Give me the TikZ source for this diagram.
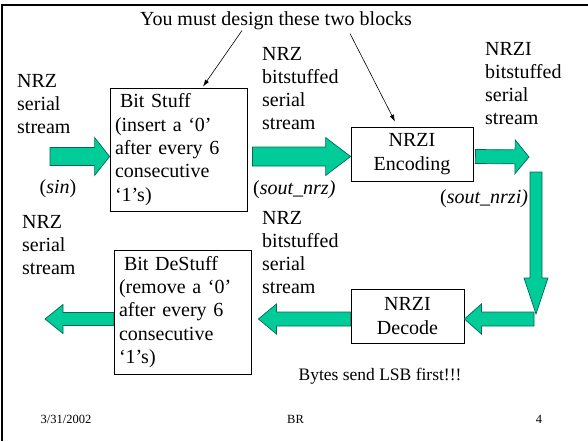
\documentclass[tikz,border=0pt]{standalone}
\usepackage{fontspec}
\setmainfont{Liberation Serif}
\usetikzlibrary{calc,arrows.meta}

\definecolor{arrowfill}{RGB}{0,204,153}
\definecolor{arrowline}{RGB}{0,105,80}

\tikzset{
  block/.style={draw, line width=0.8pt, inner sep=0pt},
  textbox/.style={block, minimum width=137pt, minimum height=123pt,
    text width=127pt, align=left},
  codebox/.style={block, minimum height=54pt, align=center},
  label/.style={anchor=north west, inner sep=0pt, align=left},
  signal/.style={anchor=base west, inner sep=0pt},
  pointer/.style={line width=0.6pt, -{Latex[length=7pt,width=4.5pt]}},
  blockarrow/.style={fill=arrowfill, draw=arrowline, line width=0.7pt, line join=miter},
  footer/.style={anchor=base, inner sep=0pt, font=\fontsize{12.5}{14}\selectfont}
}

% fat arrow: tail, tip, head length, half shaft width, half head width
\newcommand{\fatarrow}[5]{%
  \coordinate (hb) at ($(#2)!#3!(#1)$);
  \draw[blockarrow] ($(#1)!#4!90:(#2)$) -- ($(hb)!#4!-90:(#1)$)
    -- ($(hb)!#5!-90:(#1)$) -- (#2) -- ($(hb)!#5!90:(#1)$)
    -- ($(hb)!#4!90:(#1)$) -- ($(#1)!#4!-90:(#2)$) -- cycle;}

\begin{document}
\begin{tikzpicture}[x=1pt, y=-1pt, font=\fontsize{20}{23.3}\selectfont]
\useasboundingbox (0,0) rectangle (588,441);
\draw[line width=2.2pt] (2.2,441) -- (2.2,5.3) -- (588,5.3);

% the four blocks
\node[textbox] (stuff) at (178.5,149.5) {\hspace*{5pt}Bit Stuff\\(insert a ‘0’\\after every 6\\consecutive\\‘1’s)};
\node[codebox, minimum width=122pt] (enc) at (412,154) {NRZI\\Encoding};
\node[codebox, minimum width=113pt] (dec) at (407.5,316) {NRZI\\Decode};
\node[textbox, minimum height=124pt] (destuff) at (182.5,312) {\hspace*{5pt}Bit DeStuff\\(remove a ‘0’\\after every 6\\consecutive\\‘1’s)};

% stream labels
\node[label] (nrzin) at (17,73.8) {NRZ\\serial\\stream};
\node[label] (nrzstuffed) at (262,46.8) {NRZ\\bitstuffed\\serial\\stream};
\node[label] (nrzistuffed) at (485,41.8) {NRZI\\bitstuffed\\serial\\stream};
\node[label] (nrzout) at (22,214.8) {NRZ\\serial\\stream};
\node[label] (nrzstuffed2) at (262,210.8) {NRZ\\bitstuffed\\serial\\stream};
\node[anchor=base, inner sep=0pt] (sin) at (58,193) {(\textit{sin})};
\node[signal] (soutnrz) at (253,194) {(\textit{sout\_nrz)}};
\node[signal] (soutnrzi) at (440,203) {(\textit{sout\_nrzi)}};

\node[anchor=base, inner sep=0pt] (title) at (276,26) {You must design these two blocks};
\draw[pointer] ($(title.south)+(-34,0)$) -- ($(stuff.north)+(24.5,-1)$);
\draw[pointer] ($(title.south)+(74,3)$) -- ($(enc.north)+(-17,-5)$);

\node[anchor=base, inner sep=0pt, font=\fontsize{17.5}{21}\selectfont] (lsb) at (380,380) {Bytes send LSB first!!!};

% arrow end points
\coordinate (sinT) at (50,156.5);
\coordinate (stuffIn) at (stuff.west |- sinT);
\coordinate (stuffOut) at ($(stuff.east |- sinT)+(5,0)$);
\coordinate (encIn) at (enc.west |- sinT);
\coordinate (encOut) at ($(enc.east |- sinT)+(2,0)$);
\coordinate (nrziT) at (529,157);
\coordinate (downT) at (536,172);
\coordinate (downH) at (536,314);
\coordinate (backT) at (534,319);
\coordinate (decIn) at (dec.east |- backT);
\coordinate (decOut) at (dec.west |- backT);
\coordinate (destuffIn) at ($(destuff.east |- backT)+(7,0)$);
\coordinate (destuffOut) at (destuff.west |- backT);
\coordinate (soutT) at (45,319);

\fatarrow{sinT}{stuffIn}{15pt}{9pt}{19pt}
\fatarrow{stuffOut}{encIn}{25pt}{9.5pt}{19pt}
\fatarrow{encOut}{nrziT}{14pt}{7pt}{17pt}
\fatarrow{downT}{downH}{36pt}{6pt}{12pt}
\fatarrow{backT}{decIn}{17pt}{7pt}{15pt}
\fatarrow{decOut}{destuffIn}{18pt}{7pt}{15pt}
\fatarrow{destuffOut}{soutT}{18pt}{6.5pt}{14.5pt}

% footer
\node[footer] (date) at (66,423) {3/31/2002};
\node[footer] (who) at (295.5,423) {BR};
\node[footer] (page) at (539,423) {4};
\end{tikzpicture}
\end{document}
